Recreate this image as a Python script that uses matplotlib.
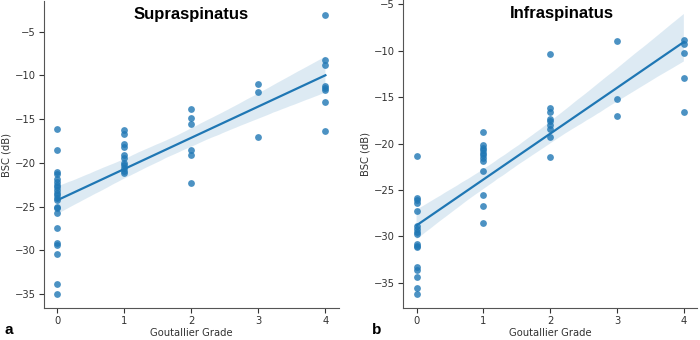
import numpy as np
import pandas as pd
import matplotlib
matplotlib.use("Agg")
import matplotlib.pyplot as plt
import seaborn as sns

# Goutallier grade vs BSC (dB)
supra_grade = [0] * 22 + [1] * 11 + [2] * 6 + [3] * 3 + [4] * 8
supra_bsc = [-16.1, -18.5, -21.1, -21.3, -21.8, -22.2, -22.5, -22.8, -23.1, -23.4, -23.7,
             -24.0, -24.2, -25.0, -25.2, -25.7, -27.5, -29.2, -29.4, -30.4, -33.8, -35.0,
             -16.3, -16.7, -17.9, -18.2, -19.1, -19.4, -20.0, -20.3, -20.6, -20.9, -21.2,
             -13.9, -14.9, -15.6, -18.5, -19.1, -22.3,
             -11.0, -11.9, -17.1,
             -3.1, -8.3, -8.8, -11.2, -11.4, -11.7, -13.0, -16.4]

infra_grade = [0] * 17 + [1] * 12 + [2] * 9 + [3] * 3 + [4] * 5
infra_bsc = [-21.3, -25.9, -26.1, -26.4, -27.3, -28.9, -29.2, -29.5, -29.7, -30.8, -31.0,
             -31.1, -33.3, -33.6, -34.4, -35.5, -36.2,
             -18.8, -20.2, -20.5, -20.7, -21.0, -21.2, -21.5, -21.9, -22.9, -25.5, -26.7, -28.6,
             -10.3, -16.2, -16.6, -17.3, -17.6, -18.0, -18.4, -19.3, -21.4,
             -8.9, -15.2, -17.0,
             -8.8, -9.3, -10.2, -12.9, -16.6]

titles = ["Supraspinatus", "Infraspinatus"]
panel_letters = ["a", "b"]

fig = plt.figure(figsize=(7, 3.4), dpi=100)
ax1 = fig.add_axes([0.063, 0.094, 0.421, 0.903])
ax2 = fig.add_axes([0.576, 0.094, 0.42, 0.906])

blue = "#1f77b4"
for ax, g, b, title, tx in [(ax1, supra_grade, supra_bsc, titles[0], 0.5),
                            (ax2, infra_grade, infra_bsc, titles[1], 0.54)]:
    df = pd.DataFrame({"grade": g, "bsc": b})
    sns.regplot(data=df, x="grade", y="bsc", ax=ax, color=blue, seed=3,
                scatter_kws={"s": 24, "alpha": 0.8, "linewidths": 0},
                line_kws={"linewidth": 1.6})
    ax.set_xlabel("Goutallier Grade", fontsize=7.2, color="#333333", labelpad=1.5)
    ax.set_ylabel("BSC (dB)", fontsize=7.2, color="#333333", labelpad=2)
    ax.tick_params(labelsize=7.2, length=3.5, width=0.8, colors="#333333", pad=2.5)
    ax.set_xticks([0, 1, 2, 3, 4])
    for s in ["left", "bottom"]:
        ax.spines[s].set_color("#555555")
    sns.despine(ax=ax)
    ax.text(tx, 0.955, title, transform=ax.transAxes, ha="center", va="center",
            fontsize=12, fontweight="bold", family="Liberation Sans")

ax1.set_yticks([-35, -30, -25, -20, -15, -10, -5])
ax2.set_yticks([-35, -30, -25, -20, -15, -10, -5])

fig.text(0.007, 0.03, panel_letters[0], fontsize=11, fontweight="bold",
         family="Liberation Sans", va="center")
fig.text(0.532, 0.03, panel_letters[1], fontsize=11, fontweight="bold",
         family="Liberation Sans", va="center")

fig.savefig("out.png", dpi=100)
